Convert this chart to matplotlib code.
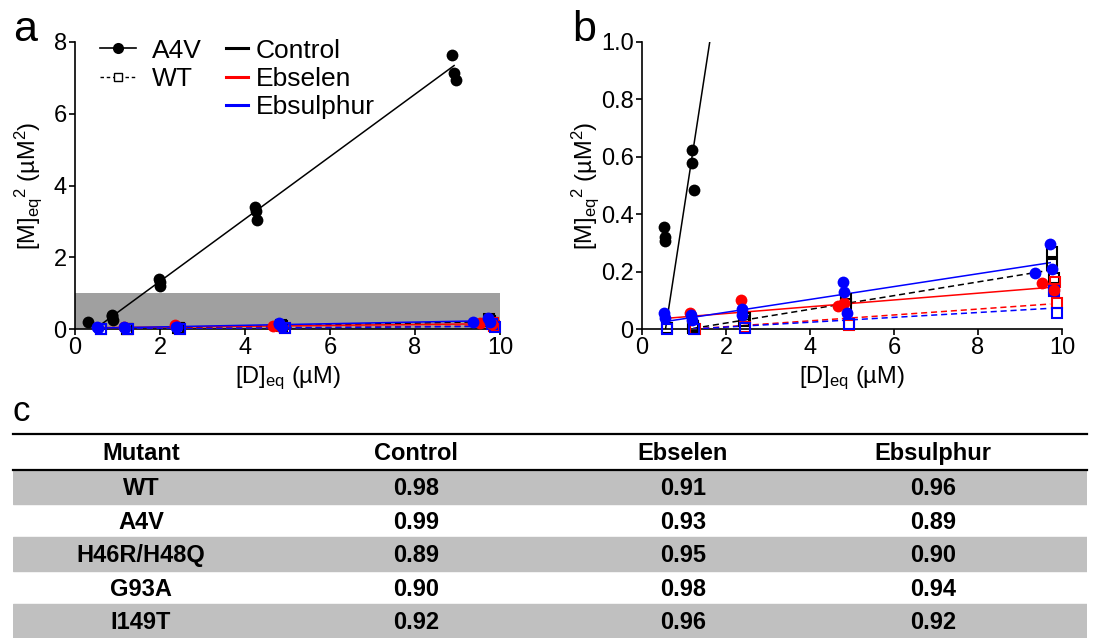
import matplotlib
matplotlib.use('Agg')
import matplotlib.pyplot as plt
import numpy as np
from matplotlib.lines import Line2D
from matplotlib.patches import Rectangle

# 字体设置 (Arial 风格)
plt.rcParams['font.family'] = ['Liberation Sans', 'DejaVu Sans']
plt.rcParams['mathtext.fontset'] = 'custom'
plt.rcParams['mathtext.rm'] = 'Liberation Sans'
plt.rcParams['mathtext.it'] = 'Liberation Sans'
plt.rcParams['mathtext.bf'] = 'Liberation Sans:bold'
plt.rcParams['mathtext.default'] = 'regular'

# ---------------- 数据 ----------------
# panel a: A4V control
a4v_ctrl_x_a = [0.31, 0.86, 0.87, 0.89, 1.97, 1.99, 2.01, 4.24, 4.26, 4.29, 8.86, 8.92, 8.96]
a4v_ctrl_y_a = [0.19, 0.40, 0.35, 0.26, 1.39, 1.30, 1.20, 3.41, 3.30, 3.05, 7.65, 7.13, 6.93]
a4v_ctrl_fit_a = (0.869, -0.408)      # slope, intercept
a4v_ctrl_span_a = (0.47, 8.92)

# panel b: A4V control
a4v_ctrl_x_b = [0.52, 0.55, 0.55, 1.18, 1.20, 1.23]
a4v_ctrl_y_b = [0.356, 0.319, 0.307, 0.625, 0.580, 0.486]
a4v_ctrl_fit_b = (0.95, -0.532)
a4v_ctrl_span_b = (0.56, 1.62)

# A4V Ebselen
a4v_ebs_x = [1.15, 2.35, 4.67, 4.80, 9.52, 9.82]
a4v_ebs_y = [0.055, 0.101, 0.081, 0.090, 0.159, 0.135]
a4v_ebs_fit = (0.0118, 0.0304)
a4v_ebs_span = (0.56, 9.72)

# A4V Ebsulphur
a4v_esu_x = [0.52, 0.54, 1.16, 1.18, 2.37, 2.39, 4.79, 4.81, 4.87, 9.36, 9.72, 9.76]
a4v_esu_y = [0.055, 0.037, 0.049, 0.031, 0.068, 0.049, 0.165, 0.130, 0.055, 0.194, 0.295, 0.208]
a4v_esu_fit = (0.02238, 0.0135)
a4v_esu_span = (0.56, 9.72)

# WT control
wt_ctrl_x = [0.60, 1.22, 1.22, 2.43, 2.45, 4.85, 4.86, 9.75, 9.76, 9.80]
wt_ctrl_y = [0.002, 0.005, 0.012, 0.029, 0.040, 0.104, 0.087, 0.267, 0.225, 0.176]
wt_ctrl_fit = (0.02388, -0.027)
wt_ctrl_span = (1.22, 9.72)

# WT Ebselen
wt_ebs_x = [1.25, 2.46, 4.94, 9.80, 9.83, 9.87]
wt_ebs_y = [0.0, 0.006, 0.014, 0.140, 0.165, 0.092]
wt_ebs_fit = (0.01024, -0.0125)
wt_ebs_span = (1.22, 9.72)

# WT Ebsulphur
wt_esu_x = [0.60, 1.24, 2.46, 4.94, 9.82, 9.88]
wt_esu_y = [0.0, 0.0, 0.002, 0.017, 0.132, 0.055]
wt_esu_fit = (0.00847, -0.0103)
wt_esu_span = (1.22, 9.72)

x_ticks = [0, 2, 4, 6, 8, 10]
a_y_ticks = [0, 2, 4, 6, 8]
b_y_ticks = [0, 0.2, 0.4, 0.6, 0.8, 1.0]
b_y_ticklabels = ['0', '0.2', '0.4', '0.6', '0.8', '1.0']

# table c
table_headers = ['Mutant', 'Control', 'Ebselen', 'Ebsulphur']
mutants = ['WT', 'A4V', 'H46R/H48Q', 'G93A', 'I149T']
r2_control = [0.98, 0.99, 0.89, 0.90, 0.92]
r2_ebselen = [0.91, 0.93, 0.95, 0.98, 0.96]
r2_ebsulphur = [0.96, 0.89, 0.90, 0.94, 0.92]

# ---------------- 画图 ----------------
W, H = 1098, 639
fig = plt.figure(figsize=(W / 100, H / 100), dpi=100)


def px_axes(left, top, right, bottom):
    return fig.add_axes([left / W, 1 - bottom / H, (right - left) / W, (bottom - top) / H])


def style_axes(ax):
    for s in ['top', 'right']:
        ax.spines[s].set_visible(False)
    for s in ['left', 'bottom']:
        ax.spines[s].set_linewidth(1.2)
    ax.tick_params(direction='out', length=4, width=1.2, labelsize=17, pad=2)


def draw_fit(ax, fit, span, color, ls):
    xs = np.array(span)
    ax.plot(xs, fit[0] * xs + fit[1], color=color, linestyle=ls, linewidth=1.1, zorder=3)


def draw_points(ax, x, y, color, marker):
    if marker == 'o':
        ax.plot(x, y, 'o', color=color, markersize=8.5, markeredgewidth=0, zorder=4, clip_on=False)
    else:
        ax.plot(x, y, 's', markerfacecolor='none', markeredgecolor=color, markersize=7.5,
                markeredgewidth=1.5, zorder=4, clip_on=False)


dash = (0, (4, 2.5))
low_series = [
    (wt_ctrl_x, wt_ctrl_y, wt_ctrl_fit, wt_ctrl_span, 'black', 's', dash),
    (wt_ebs_x, wt_ebs_y, wt_ebs_fit, wt_ebs_span, 'red', 's', dash),
    (wt_esu_x, wt_esu_y, wt_esu_fit, wt_esu_span, 'blue', 's', dash),
    (a4v_ebs_x, a4v_ebs_y, a4v_ebs_fit, a4v_ebs_span, 'red', 'o', '-'),
    (a4v_esu_x, a4v_esu_y, a4v_esu_fit, a4v_esu_span, 'blue', 'o', '-'),
]

ax_a = px_axes(75, 42, 500, 329)
ax_b = px_axes(642, 42, 1062, 329)

for ax, ctrl_x, ctrl_y, ctrl_fit, ctrl_span, label_x in [
        (ax_a, a4v_ctrl_x_a, a4v_ctrl_y_a, a4v_ctrl_fit_a, a4v_ctrl_span_a, -0.073),
        (ax_b, a4v_ctrl_x_b, a4v_ctrl_y_b, a4v_ctrl_fit_b, a4v_ctrl_span_b, -0.097)]:
    style_axes(ax)
    draw_fit(ax, ctrl_fit, ctrl_span, 'black', '-')
    draw_points(ax, ctrl_x, ctrl_y, 'black', 'o')
    for x, y, fit, span, color, marker, ls in low_series:
        draw_fit(ax, fit, span, color, ls)
        draw_points(ax, x, y, color, marker)
    ax.set_xlim(0, 10)
    ax.set_xticks(x_ticks)
    ax.set_xlabel('[D]$_{eq}$ (µM)', fontsize=17, labelpad=4)
    ax.set_ylabel('[M]$_{eq}$$^{2}$ (µM$^{2}$)', fontsize=17)
    ax.yaxis.set_label_coords(label_x, 0.5)

ax_a.set_ylim(0, 8)
ax_a.set_yticks(a_y_ticks)
ax_b.set_ylim(b_y_ticks[0], b_y_ticks[-1])
ax_b.set_yticks(b_y_ticks)
ax_b.set_yticklabels(b_y_ticklabels)

# panel a 中灰色区域 = panel b 的放大范围
ax_a.add_patch(Rectangle((0, b_y_ticks[0]), 10, b_y_ticks[-1] - b_y_ticks[0],
                         facecolor='#a0a0a0', edgecolor='none', zorder=1))

# 图例
h1 = [Line2D([], [], color='black', lw=1.2, marker='o', markersize=8, markeredgewidth=0),
      Line2D([], [], color='black', lw=1.0, linestyle=(0, (2.5, 2)), marker='s', markersize=5.5,
             markerfacecolor='white', markeredgewidth=1.0)]
leg1 = ax_a.legend(h1, ['A4V', 'WT'], loc='upper left', bbox_to_anchor=(0.059, 1.012),
                   frameon=False, fontsize=19, handlelength=1.36, handletextpad=0.6,
                   labelspacing=0.16, borderpad=0, borderaxespad=0)
ax_a.add_artist(leg1)
h2 = [Line2D([], [], color=c, lw=2.2) for c in ['black', 'red', 'blue']]
ax_a.legend(h2, ['Control', 'Ebselen', 'Ebsulphur'], loc='upper left', bbox_to_anchor=(0.355, 1.012),
            frameon=False, fontsize=19, handlelength=0.83, handletextpad=0.3,
            labelspacing=0.16, borderpad=0, borderaxespad=0)

# 表格 c
ax_t = px_axes(13, 433, 1087, 638)
ax_t.set_xlim(13, 1087)
ax_t.set_ylim(638, 433)
ax_t.axis('off')
header_top, header_bottom, row_h = 433, 470, 33.5
col_x = [141, 416, 683, 933]

for i in range(len(mutants)):
    if i % 2 == 0:
        top = header_bottom + i * row_h
        ax_t.axhspan(top, top + row_h, color='#c0c0c0', zorder=0)

ax_t.axhline(header_top + 1, color='black', lw=1.6, clip_on=False)
ax_t.axhline(header_bottom, color='black', lw=1.6, clip_on=False)

for j, h in enumerate(table_headers):
    ax_t.text(col_x[j], (header_top + header_bottom) / 2 + 8.5, h, ha='center', va='baseline',
              fontsize=17, fontweight='bold')

for i, m in enumerate(mutants):
    yc = header_bottom + (i + 0.5) * row_h + 8.5
    vals = [m, '%.2f' % r2_control[i], '%.2f' % r2_ebselen[i], '%.2f' % r2_ebsulphur[i]]
    for j, v in enumerate(vals):
        ax_t.text(col_x[j], yc, v, ha='center', va='baseline', fontsize=17, fontweight='bold')

# panel 字母
fig.text(13 / W, 1 - 41 / H, 'a', fontsize=31, va='baseline')
fig.text(572 / W, 1 - 41 / H, 'b', fontsize=31, va='baseline')
fig.text(12 / W, 1 - 421 / H, 'c', fontsize=25, va='baseline')

fig.savefig('out.png', dpi=100)
